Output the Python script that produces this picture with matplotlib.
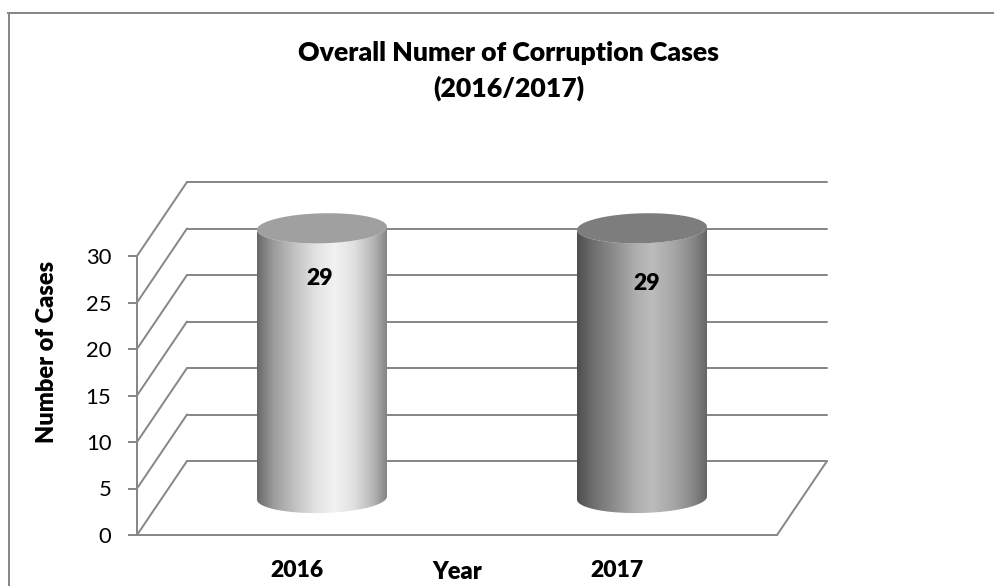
import numpy as np
import matplotlib
matplotlib.use("Agg")
import matplotlib.pyplot as plt
from matplotlib.colors import LinearSegmentedColormap
from matplotlib.lines import Line2D
from matplotlib.path import Path
from matplotlib.patches import Polygon, PathPatch

years = ["2016", "2017"]
cases = [29, 29]
y_ticks = [0, 5, 10, 15, 20, 25, 30]
title = "Overall Numer of Corruption Cases\n(2016/2017)"
y_label = "Number of Cases"
x_label = "Year"

W, H = 995, 586
DPI = 100
LINE = "#888888"
FONT = "Lato"
BOLD = 800
plt.rcParams["font.family"] = [FONT, "DejaVu Sans"]

grad_stops = [
    [(0, "#686868"), (0.12, "#9a9a9a"), (0.3, "#c4c4c4"), (0.45, "#e2e2e2"), (0.6, "#f2f2f2"),
     (0.75, "#e0e0e0"), (0.9, "#b4b4b4"), (1, "#848484")],
    [(0, "#4e4e4e"), (0.12, "#6e6e6e"), (0.3, "#8f8f8f"), (0.45, "#aeaeae"), (0.58, "#bcbcbc"),
     (0.75, "#a6a6a6"), (0.9, "#868686"), (1, "#666666")],
]
top_colors = ["#a0a0a0", "#7d7d7d"]

fig = plt.figure(figsize=(W / DPI, H / DPI), dpi=DPI, facecolor="white")
ax = fig.add_axes([137 / W, 1 - 535 / H, 640 / W, 279 / H])
ax.patch.set_visible(False)

# outer chart frame
fig.add_artist(Line2D([8.5 / W, 8.5 / W], [0, 1 - 13 / H], color=LINE, lw=1.44, transform=fig.transFigure))
fig.add_artist(Line2D([8 / W, 1], [1 - 13 / H, 1 - 13 / H], color=LINE, lw=1.44, transform=fig.transFigure))

x_pos = np.arange(len(years)) + 0.5
X_MAX = 2.0
DX = 50 / 320    # depth of the 3-D box, in x data units
DY = 74 / 9.3    # depth of the 3-D box, in y data units
HALF_W = 65 / 320
HALF_H = 15 / 9.3
TILT = 0.8

# walls and floor
lk = dict(color=LINE, lw=1.44, clip_on=False, zorder=1, solid_capstyle="round")
for v in y_ticks:
    ax.plot([0, DX], [v, v + DY], **lk)
    ax.plot([DX, X_MAX + DX], [v + DY, v + DY], **lk)
ax.plot([X_MAX, X_MAX + DX], [0, DY], **lk)

# cylinders
t = np.linspace(0, 2 * np.pi, 181)
label_offsets = [(-2, -36.5), (3.6, -39.5)]
for i, (x, val) in enumerate(zip(x_pos, cases)):
    cx = x + DX / 2
    base = DY / 2
    top = val + DY / 2
    ex = HALF_W * np.cos(t)
    ey = HALF_H * np.sin(t) + TILT * HALF_W * np.cos(t)
    lower = t >= np.pi
    order = np.argsort(ex[lower])
    body = np.vstack([
        np.column_stack([cx + ex[lower][order], base + ey[lower][order]]),
        np.column_stack([cx + ex[lower][order][::-1], top + ey[lower][order][::-1]]),
    ])
    cmap = LinearSegmentedColormap.from_list("g", grad_stops[i])
    im = ax.imshow(np.linspace(0, 1, 256)[None, :], cmap=cmap, aspect="auto", interpolation="bilinear",
                   extent=(cx - HALF_W, cx + HALF_W, base - 2 * HALF_H, top + 2 * HALF_H), zorder=2)
    im.set_clip_box(fig.bbox)
    im.set_clip_path(PathPatch(Path(np.vstack([body, body[0]])), transform=ax.transData))
    ax.add_patch(Polygon(np.column_stack([cx + ex, top + ey]), closed=True, fc=top_colors[i], ec="none",
                         clip_on=False, zorder=3))
    ax.annotate(str(val), xy=(cx, top), xytext=label_offsets[i], textcoords="offset points",
                ha="center", va="center", fontsize=16.5, fontweight=BOLD, color="black",
                annotation_clip=False, zorder=5)

ax.set_xlim(0, X_MAX)
ax.set_ylim(0, 30)

for s in ("top", "right"):
    ax.spines[s].set_visible(False)
for s in ("left", "bottom"):
    ax.spines[s].set_color(LINE)
    ax.spines[s].set_linewidth(1.44)

ax.set_yticks(y_ticks)
ax.set_yticklabels([str(v) for v in y_ticks])
ax.tick_params(axis="y", length=6.5, width=1.44, color=LINE, labelsize=15.8, pad=12, labelcolor="black")
ax.set_xticks(x_pos)
ax.set_xticklabels(years, fontweight=BOLD)
ax.tick_params(axis="x", length=0, labelsize=16.5, pad=18)

fig.text(457 / W, 1 - 572 / H, x_label, ha="center", va="center", fontsize=17, fontweight=BOLD)
fig.text(47 / W, 1 - 352 / H, y_label, rotation=90, ha="center", va="center", fontsize=17, fontweight=BOLD)
fig.text(508.5 / W, 1 - 71 / H, title, ha="center", va="center", fontsize=19.2, fontweight=BOLD,
         linespacing=1.48)

fig.savefig("out.png", dpi=DPI, facecolor="white")
